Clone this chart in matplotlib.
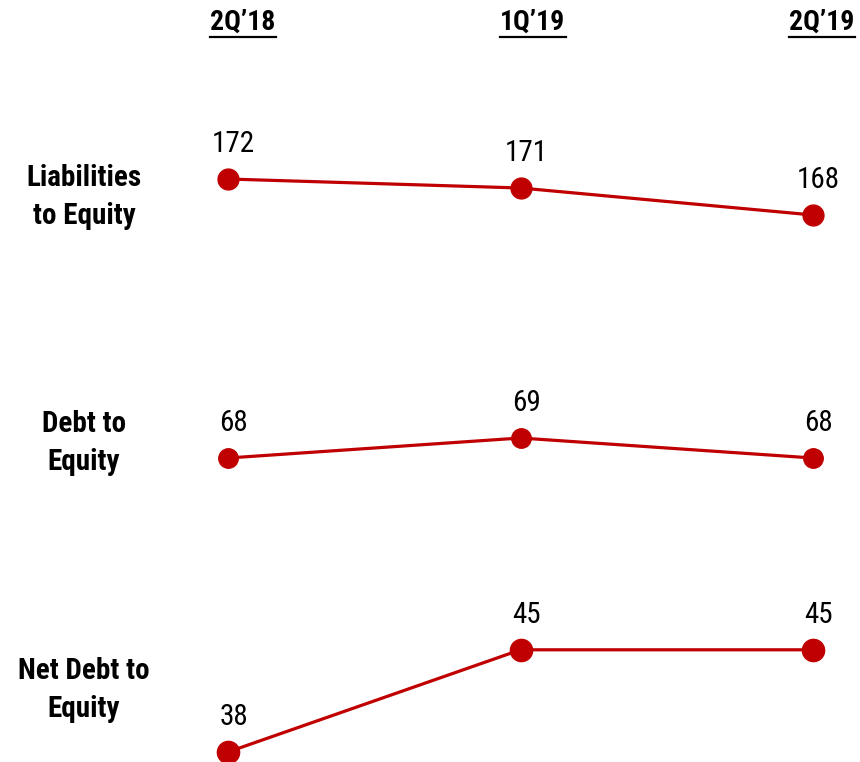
import matplotlib
matplotlib.use("Agg")
import matplotlib.pyplot as plt

periods = ["2Q\u201918", "1Q\u201919", "2Q\u201919"]
metrics = ["Liabilities\nto Equity", "Debt to\nEquity", "Net Debt to\nEquity"]
liab_to_equity = [172, 171, 168]
debt_to_equity = [68, 69, 68]
net_debt_to_equity = [38, 45, 45]
series = [liab_to_equity, debt_to_equity, net_debt_to_equity]

plt.rcParams["font.family"] = ["Roboto Condensed", "DejaVu Sans"]

W, H = 860, 762
fig = plt.figure(figsize=(W / 100, H / 100), dpi=100)

RED = "#C00000"
# pixel layout per row: (pixel y of reference value, reference value, px per unit, marker size)
row_layout = [
    (179, 172, 9.0, 15),
    (458, 68, 20.0, 14),
    (752, 38, 14.6, 16),
]
x_px = [228, 520, 813]
spacing = (x_px[2] - x_px[0]) / 2
xlim = (-x_px[0] / spacing, (W - x_px[0]) / spacing)

for vals, (py, ref, k, ms) in zip(series, row_layout):
    ax = fig.add_axes([0, 0, 1, 1])
    ax.patch.set_alpha(0)
    ax.axis("off")
    yb = H - py  # from bottom
    ax.set_xlim(*xlim)
    ax.set_ylim(ref - yb / k, ref + (H - yb) / k)
    xs = list(range(len(vals)))
    ax.plot(xs, vals, color=RED, lw=2.3, marker="o", ms=ms,
            markerfacecolor=RED, markeredgecolor=RED, zorder=3, clip_on=False)
    for x, v in zip(xs, vals):
        ax.annotate(str(v), (x, v), xytext=(4, 25), textcoords="offset points",
                    ha="center", va="center", fontsize=21, color="black")

# row labels
label_y = [197, 443, 690]
for lab, y in zip(metrics, label_y):
    fig.text(84 / W, 1 - y / H, lab, ha="center", va="center",
             fontsize=21, fontweight="bold", linespacing=1.45)

# headers with underline
head_x = [243, 533, 822]
fig.canvas.draw()
r = fig.canvas.get_renderer()
for lab, x in zip(periods, head_x):
    t = fig.text(x / W, 1 - 22 / H, lab, ha="center", va="center",
                 fontsize=20, fontweight="bold")
    bb = t.get_window_extent(renderer=r)
    yline = 1 - 37 / H
    fig.add_artist(plt.Line2D([bb.x0 / W, bb.x1 / W], [yline, yline],
                              color="black", lw=1.6, transform=fig.transFigure))

fig.savefig("out.png", dpi=100)
